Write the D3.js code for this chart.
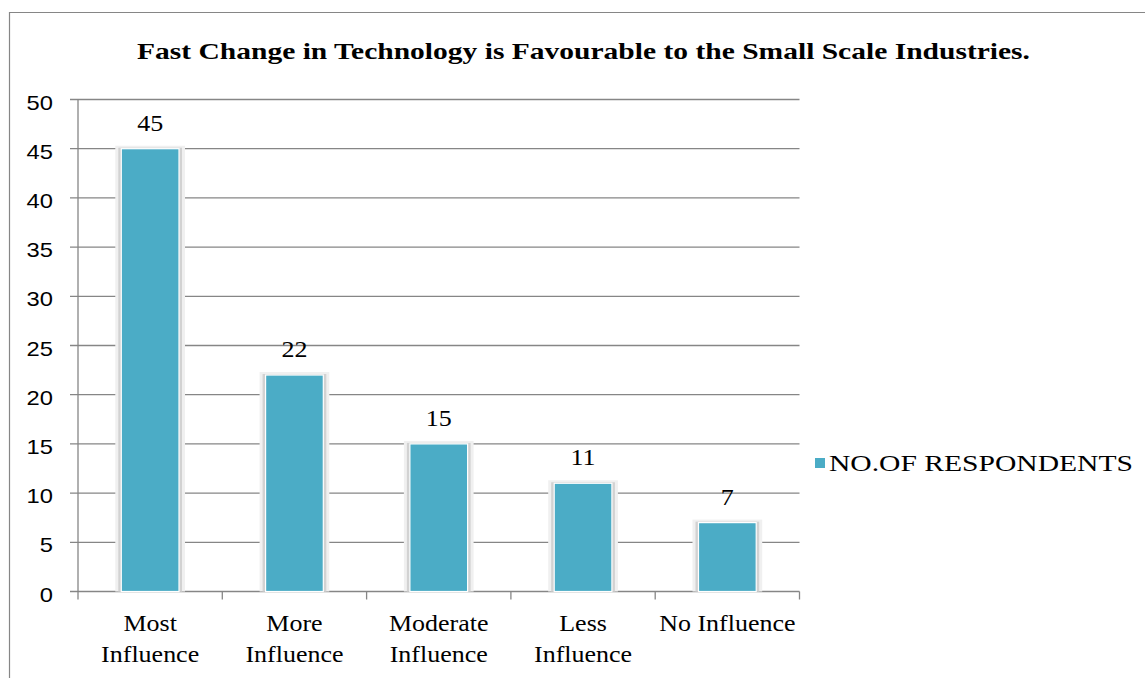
<!DOCTYPE html>
<html>
<head>
<meta charset="utf-8">
<script src="https://cdn.jsdelivr.net/npm/d3@7"></script>
<style>
  html, body { margin: 0; padding: 0; background: #fff; }
  svg { display: block; }
</style>
</head>
<body>
<svg id="chart" width="1145" height="678"></svg>
<script>
const categories = ['Most Influence', 'More Influence', 'Moderate Influence', 'Less Influence', 'No Influence'];
const categoryLines = [['Most', 'Influence'], ['More', 'Influence'], ['Moderate', 'Influence'], ['Less', 'Influence'], ['No Influence']];
const respondents = [45, 22, 15, 11, 7];
const yTicks = [0, 5, 10, 15, 20, 25, 30, 35, 40, 45, 50];
const seriesName = 'NO.OF RESPONDENTS';
const title = 'Fast Change in Technology is Favourable to the Small Scale Industries.';

const svg = d3.select('#chart');
const serif = 'Liberation Serif, Tinos, Times New Roman, Times, DejaVu Serif, serif';
const sans = 'Liberation Sans, Arial, sans-serif';
const stretch = 1.13;
const barColor = '#4BACC6';
const gridColor = '#868686';

const plot = { left: 78, right: 799.5, top: 99.5, bottom: 591.5 };

const x = d3.scaleBand()
  .domain(categories)
  .range([plot.left, plot.right])
  .paddingInner(0.6)
  .paddingOuter(0.3);

const y = d3.scaleLinear()
  .domain([0, 50])
  .range([plot.bottom, plot.top]);

// outer frame
svg.append('path')
  .attr('d', 'M9.5,678 V12.5 H1145')
  .attr('fill', 'none')
  .attr('stroke', gridColor)
  .attr('stroke-width', 1.2);

// title
svg.append('text')
  .style('font-family', serif)
  .attr('x', 137)
  .attr('y', 59)
  .attr('font-weight', 'bold')
  .attr('font-size', 23)
  .attr('textLength', 893)
  .attr('lengthAdjust', 'spacingAndGlyphs')
  .text(title);

// gridlines
svg.append('g')
  .selectAll('line')
  .data(yTicks)
  .enter()
  .append('line')
  .attr('x1', plot.left - 8)
  .attr('x2', plot.right)
  .attr('y1', (d) => y(d))
  .attr('y2', (d) => y(d))
  .attr('stroke', gridColor)
  .attr('stroke-width', 1.3);

// y axis line
svg.append('line')
  .attr('x1', plot.left).attr('x2', plot.left)
  .attr('y1', plot.top).attr('y2', plot.bottom)
  .attr('stroke', gridColor)
  .attr('stroke-width', 1.3);

// y tick labels
svg.append('g')
  .selectAll('text')
  .data(yTicks)
  .enter()
  .append('text')
  .style('font-family', sans)
  .attr('transform', (d) => `translate(53,${y(d) + 10}) scale(${stretch},1)`)
  .attr('text-anchor', 'end')
  .attr('font-size', 21)
  .attr('fill', '#000')
  .text((d) => d);

// x category ticks
const step = x.step();
const boundaries = categories.map((c) => x(c) - x.paddingOuter() * step);
boundaries.push(plot.right);
svg.append('g')
  .selectAll('line')
  .data(boundaries)
  .enter()
  .append('line')
  .attr('x1', (d) => d).attr('x2', (d) => d)
  .attr('y1', plot.bottom).attr('y2', plot.bottom + 8)
  .attr('stroke', gridColor)
  .attr('stroke-width', 1.3);

// bars with soft shadow
const bars = svg.append('g')
  .selectAll('g.bar')
  .data(categories)
  .enter()
  .append('g')
  .attr('class', 'bar');

bars.append('rect')
  .attr('x', (d) => x(d) - 6)
  .attr('y', (d, i) => y(respondents[i]) - 3)
  .attr('width', x.bandwidth() + 12)
  .attr('height', (d, i) => plot.bottom - y(respondents[i]) + 3)
  .attr('fill', '#f0f0f0');

bars.append('rect')
  .attr('x', (d) => x(d) - 3)
  .attr('y', (d, i) => y(respondents[i]) - 1)
  .attr('width', x.bandwidth() + 6)
  .attr('height', (d, i) => plot.bottom - y(respondents[i]) + 1)
  .attr('fill', '#d2d2d2');

bars.append('rect')
  .attr('x', (d) => x(d))
  .attr('y', (d, i) => y(respondents[i]))
  .attr('width', x.bandwidth())
  .attr('height', (d, i) => plot.bottom - y(respondents[i]))
  .attr('fill', barColor)
  .attr('stroke', '#ffffff')
  .attr('stroke-width', 1.2);

// value labels
bars.append('text')
  .style('font-family', serif)
  .attr('transform', (d, i) => `translate(${x(d) + x.bandwidth() / 2},${y(respondents[i]) - 18}) scale(${stretch},1)`)
  .attr('text-anchor', 'middle')
  .attr('font-size', 23)
  .text((d, i) => respondents[i]);

// category labels
const catLabels = svg.append('g')
  .selectAll('text')
  .data(categories)
  .enter()
  .append('text')
  .style('font-family', serif)
  .attr('transform', (d) => `translate(${x(d) + x.bandwidth() / 2},631) scale(${stretch},1)`)
  .attr('text-anchor', 'middle')
  .attr('font-size', 23);

catLabels.selectAll('tspan')
  .data((d, i) => categoryLines[i])
  .enter()
  .append('tspan')
  .attr('x', 0)
  .attr('y', (d, i) => i * 31)
  .text((d) => d);

// legend
svg.append('rect')
  .attr('x', 815).attr('y', 458)
  .attr('width', 10).attr('height', 10)
  .attr('fill', barColor);

svg.append('text')
  .style('font-family', serif)
  .attr('x', 829)
  .attr('y', 471)
  .attr('font-size', 23)
  .attr('textLength', 304)
  .attr('lengthAdjust', 'spacingAndGlyphs')
  .text(seriesName);
</script>
</body>
</html>
